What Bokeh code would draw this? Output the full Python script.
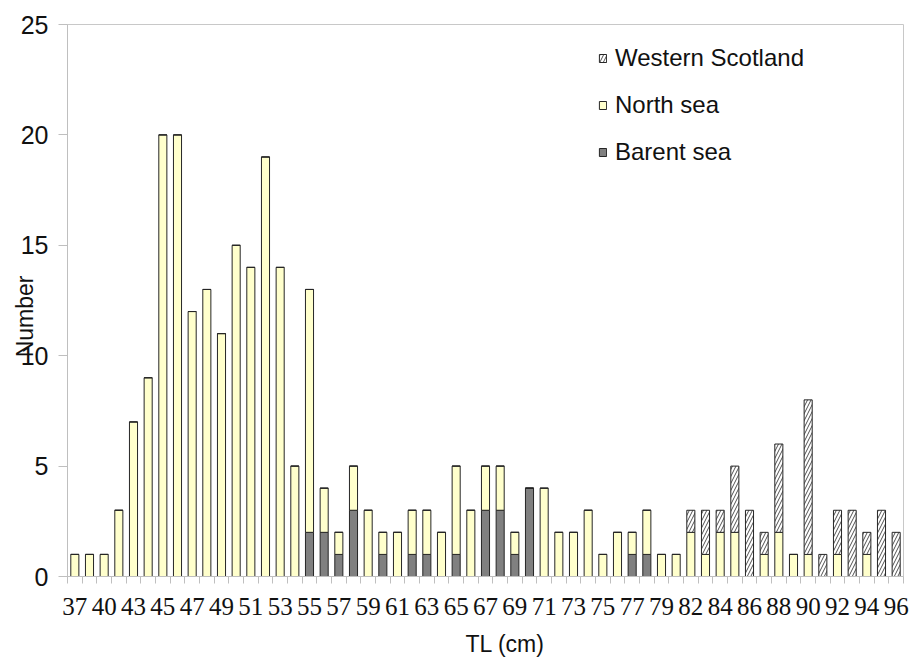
from bokeh.plotting import figure
from bokeh.models import (Range1d, FixedTicker, Legend, LegendItem, Title, ColumnDataSource)
from bokeh.embed import file_html
from bokeh.resources import INLINE

# ---- data ----
categories = ["37", "38", "40", "41", "43", "44", "45", "46", "47", "48", "49", "50",
              "51", "52", "53", "54", "55", "56", "57", "58", "59", "60", "61", "62",
              "63", "64", "65", "66", "67", "68", "69", "70", "71", "72", "73", "74",
              "75", "76", "77", "78", "79", "80", "82", "83", "84", "85", "86", "87",
              "88", "89", "90", "91", "92", "93", "94", "95", "96"]
barent_sea = [0, 0, 0, 0, 0, 0, 0, 0, 0, 0, 0, 0,
              0, 0, 0, 0, 2, 2, 1, 3, 0, 1, 0, 1,
              1, 0, 1, 0, 3, 3, 1, 4, 0, 0, 0, 0,
              0, 0, 1, 1, 0, 0, 0, 0, 0, 0, 0, 0,
              0, 0, 0, 0, 0, 0, 0, 0, 0]
north_sea = [1, 1, 1, 3, 7, 9, 20, 20, 12, 13, 11, 15,
             14, 19, 14, 5, 11, 2, 1, 2, 3, 1, 2, 2,
             2, 2, 4, 3, 2, 2, 1, 0, 4, 2, 2, 3,
             1, 2, 1, 2, 1, 1, 2, 1, 2, 2, 0, 1,
             2, 1, 1, 0, 1, 0, 1, 0, 0]
western_scotland = [0, 0, 0, 0, 0, 0, 0, 0, 0, 0, 0, 0,
                    0, 0, 0, 0, 0, 0, 0, 0, 0, 0, 0, 0,
                    0, 0, 0, 0, 0, 0, 0, 0, 0, 0, 0, 0,
                    0, 0, 0, 0, 0, 0, 1, 2, 1, 3, 3, 1,
                    4, 0, 7, 1, 2, 3, 1, 3, 2]
y_ticks = [0, 5, 10, 15, 20, 25]

n = len(categories)
source = ColumnDataSource(dict(
    x=list(range(n)),
    barent=barent_sea,
    north=north_sea,
    western=western_scotland,
))

p = figure(width=912, height=668, output_backend="svg", toolbar_location=None,
           x_range=Range1d(-0.5, n - 0.5), y_range=Range1d(0, 25),
           min_border_left=67, min_border_right=9, min_border_top=24, min_border_bottom=92)
p.background_fill_color = "white"
p.border_fill_color = "white"
p.outline_line_color = "#c8c8c8"
p.outline_line_width = 1
p.xgrid.visible = False
p.ygrid.visible = False

renderers = p.vbar_stack(["barent", "north", "western"], x="x", width=0.55, source=source,
                         fill_color=["#808080", "#FFFFCC", "white"],
                         line_color="#262626", line_width=1)
west = renderers[2]
west.glyph.hatch_pattern = "/"
west.glyph.hatch_color = "#505050"
west.glyph.hatch_scale = 7
west.glyph.hatch_weight = 1

# x axis: labels every other category, tick marks between categories
xa = p.xaxis[0]
xa.ticker = FixedTicker(ticks=list(range(0, n, 2)),
                        minor_ticks=[i - 0.5 for i in range(n + 1)])
xa.major_label_overrides = {i: categories[i] for i in range(0, n, 2)}
xa.major_tick_line_color = None
xa.major_tick_out = 0
xa.major_tick_in = 0
xa.minor_tick_line_color = "#bfbfbf"
xa.minor_tick_out = 7
xa.minor_tick_in = 0
xa.axis_line_color = "#bfbfbf"
xa.major_label_text_font = "Liberation Serif"
xa.major_label_text_font_size = "25px"
xa.major_label_text_color = "#111111"
xa.major_label_standoff = 14

ya = p.yaxis[0]
ya.ticker = FixedTicker(ticks=y_ticks)
ya.minor_tick_line_color = None
ya.major_tick_line_color = "#bfbfbf"
ya.major_tick_out = 9
ya.major_tick_in = 0
ya.axis_line_color = "#bfbfbf"
ya.major_label_text_font = "Liberation Sans"
ya.major_label_text_font_size = "25px"
ya.major_label_text_color = "#111111"
ya.major_label_standoff = 10
# y title overlaps the tick labels as in the reference (shifted down with trailing spaces)
ya.axis_label = "Number" + "\u00a0" * 5
ya.axis_label_text_font = "Liberation Sans"
ya.axis_label_text_font_size = "23px"
ya.axis_label_text_font_style = "normal"
ya.axis_label_text_color = "#111111"
ya.axis_label_standoff = -20

# x title
p.add_layout(Title(text="TL (cm)", align="left", offset=398, standoff=23,
                   text_font="Liberation Sans", text_font_size="23px",
                   text_font_style="normal", text_color="#111111"), "below")

legend = Legend(items=[
    LegendItem(label="Western Scotland", renderers=[renderers[2]]),
    LegendItem(label="North sea", renderers=[renderers[1]]),
    LegendItem(label="Barent sea", renderers=[renderers[0]]),
], location=(531, 410))
legend.border_line_color = None
legend.background_fill_alpha = 0
legend.padding = 0
legend.margin = 0
legend.glyph_width = 9
legend.glyph_height = 10
legend.label_height = 28
legend.spacing = 19
legend.label_standoff = 8
legend.label_text_font = "Liberation Sans"
legend.label_text_font_size = "24px"
legend.label_text_color = "#111111"
p.add_layout(legend)

open("out.html", "w").write(file_html(p, INLINE))
